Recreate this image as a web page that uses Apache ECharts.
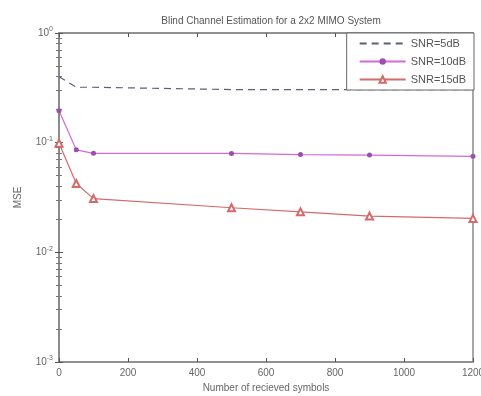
<!DOCTYPE html>
<html>
<head>
    <meta charset="UTF-8">
    <title>Blind Channel Estimation</title>
    <style>
        html, body { margin: 0; padding: 0; background: #fff; }
        #box { width: 481px; height: 396px; }
    </style>
    <script src="https://cdn.jsdelivr.net/npm/echarts@6/dist/echarts.min.js"></script>
</head>
<body>
<div id="box"></div>
<script>
    // number of received symbols
    var symbols = [0, 50, 100, 500, 700, 900, 1200];
    // MSE values
    var snr5 = [0.40, 0.32, 0.32, 0.305, 0.305, 0.305, 0.305];
    var snr10 = [0.195, 0.086, 0.080, 0.0797, 0.0778, 0.077, 0.075];
    var snr15 = [0.099, 0.0424, 0.0309, 0.0255, 0.0234, 0.0214, 0.0204];

    function pairs(ys) {
        return symbols.map(function (x, i) { return [x, ys[i]]; });
    }

    var myChart = echarts.init(document.getElementById('box'));

    var axisGray = '#8a8a8a';
    var textGray = '#666';
    function tick() { return { inside: true, length: 4, lineStyle: { color: '#555' } }; }
    // minor ticks ignore "inside", so a negative length turns them into the plot
    function minor() { return { show: true, splitNumber: 9, length: -3, lineStyle: { color: '#777' } }; }

    var option = {
        backgroundColor: '#fff',
        animation: false,
        title: {
            text: 'Blind Channel Estimation for a 2x2 MIMO System',
            left: 266,
            textAlign: 'center',
            top: 11,
            textStyle: { color: '#555', fontSize: 10, fontWeight: 'normal', fontFamily: 'Liberation Sans' }
        },
        legend: {
            orient: 'vertical',
            right: 7,
            top: 33,
            itemWidth: 46,
            itemHeight: 8,
            itemGap: 7,
            padding: [5, 8, 5, 12],
            backgroundColor: '#fff',
            borderColor: '#666',
            borderWidth: 1,
            textStyle: { color: '#555', fontSize: 11, fontFamily: 'Liberation Sans' },
            data: [
                { name: 'SNR=5dB', itemStyle: { opacity: 0 } },
                'SNR=10dB',
                'SNR=15dB'
            ]
        },
        grid: {
            left: 59, right: 8, top: 33, bottom: 34,
            outerBoundsMode: 'none',
            show: true,
            borderColor: axisGray,
            borderWidth: 1.5
        },
        xAxis: [
            {
                type: 'value',
                min: 0,
                max: 1200,
                interval: 200,
                name: 'Number of recieved symbols',
                nameLocation: 'middle',
                nameGap: 19,
                nameTextStyle: { color: textGray, fontSize: 10, fontFamily: 'Liberation Sans' },
                axisLine: { lineStyle: { color: axisGray, width: 1.5 } },
                axisTick: tick(),
                axisLabel: {
                    color: textGray, fontSize: 10, fontFamily: 'Liberation Sans', margin: 6,
                    formatter: function (v) { return String(v); }
                },
                splitLine: { show: false }
            },
            {
                type: 'value',
                position: 'top',
                min: 0,
                max: 1200,
                interval: 200,
                axisLine: { lineStyle: { color: axisGray, width: 1.5 } },
                axisTick: tick(),
                axisLabel: { show: false },
                splitLine: { show: false }
            }
        ],
        yAxis: [
            {
                type: 'log',
                min: 0.001,
                max: 1,
                logBase: 10,
                name: 'MSE',
                nameLocation: 'middle',
                nameGap: 36,
                nameTextStyle: { color: textGray, fontSize: 10, fontFamily: 'Liberation Sans' },
                axisLine: { lineStyle: { color: axisGray, width: 1.5 } },
                axisTick: tick(),
                minorTick: minor(),
                axisLabel: {
                    color: textGray,
                    fontSize: 10,
                    fontFamily: 'Liberation Sans',
                    margin: 6,
                    formatter: function (v) {
                        var p = Math.round(Math.log10(v));
                        return '{b|10}{s|' + p + '}';
                    },
                    rich: {
                        b: { fontSize: 10, color: textGray, fontFamily: 'Liberation Sans' },
                        s: { fontSize: 7, color: textGray, fontFamily: 'Liberation Sans', verticalAlign: 'top', padding: [0, 0, 7, 0] }
                    }
                },
                splitLine: { show: false }
            },
            {
                type: 'log',
                position: 'right',
                min: 0.001,
                max: 1,
                logBase: 10,
                axisLine: { lineStyle: { color: axisGray, width: 1.5 } },
                axisTick: tick(),
                minorTick: minor(),
                axisLabel: { show: false },
                splitLine: { show: false }
            }
        ],
        series: [
            {
                name: 'SNR=5dB',
                type: 'line',
                data: pairs(snr5),
                symbol: 'none',
                color: '#5a6078',
                lineStyle: { width: 1.2, type: [7, 5], color: '#5a6078' }
            },
            {
                name: 'SNR=10dB',
                type: 'line',
                data: pairs(snr10),
                symbol: 'circle',
                symbolSize: 5,
                color: '#d36ad6',
                itemStyle: { color: '#9a4fb0' },
                lineStyle: { width: 1.2, color: '#d36ad6' }
            },
            {
                name: 'SNR=15dB',
                type: 'line',
                data: pairs(snr15),
                symbol: 'emptyTriangle',
                symbolSize: 7,
                color: '#d46a6a',
                itemStyle: { color: '#d46a6a', borderColor: '#d46a6a' },
                lineStyle: { width: 1.2, color: '#d46a6a' }
            },
            {
                // empty series so the mirrored top/right axes are laid out
                type: 'line',
                xAxisIndex: 1,
                yAxisIndex: 1,
                data: []
            }
        ]
    };

    myChart.setOption(option);
</script>
</body>
</html>
